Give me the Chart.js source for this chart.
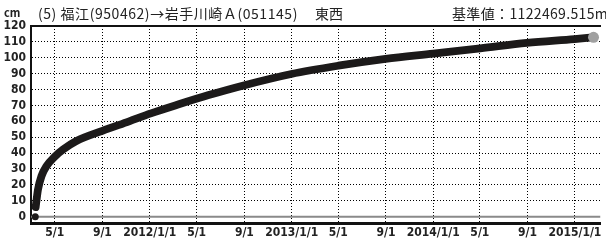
<!DOCTYPE html>
<html>
<head>
<meta charset="utf-8">
<script src="https://cdn.jsdelivr.net/npm/chart.js@4"></script>
<style>
  body { margin: 0; background: #fff; }
  #wrap { position: relative; width: 606px; height: 248px; }
  .t { position: absolute; white-space: nowrap; color: #222; font-family: 'Liberation Sans Narrow', 'Noto Sans CJK JP', sans-serif; }
</style>
</head>
<body>
<div id="wrap">
  <canvas id="chart" width="606" height="248"></canvas>
  <div class="t" style="left:4px;top:4px;font-size:11px;font-weight:bold;">cm</div>
  <div class="t" style="left:38px;top:3px;font-size:14px;letter-spacing:0.55px;">(5) 福江(950462)→岩手川崎Ａ(051145)</div>
  <div class="t" style="left:315px;top:3px;font-size:14px;">東西</div>
  <div class="t" style="left:452px;top:3px;font-size:14px;letter-spacing:0.35px;">基準値：1122469.515m</div>
</div>
<script>
//Data
const dates = ['2011-03-13', '2011-03-19', '2011-03-28', '2011-04-10', '2011-05-01', '2011-05-23',
    '2011-06-26', '2011-09-01', '2011-11-09', '2012-01-04', '2012-03-16', '2012-06-01',
    '2012-08-30', '2012-12-31', '2013-05-01', '2013-08-31', '2014-01-01', '2014-05-02',
    '2014-08-30', '2014-12-31', '2015-02-18'];
const values = [6, 17, 25.5, 31.8, 37.7, 42.3, 47.6, 54, 60, 65, 70.7, 76.5,
    82.6, 89.8, 95, 99.3, 102.6, 105.9, 109.4, 111.8, 112.9];
const startDate = '2011-03-12';
const startValue = 0;

const xTickDates = ['2011-05-01', '2011-09-01', '2012-01-01', '2012-05-01', '2012-09-01', '2013-01-01',
    '2013-05-01', '2013-09-01', '2014-01-01', '2014-05-01', '2014-09-01', '2015-01-01'];
const xTickLabels = ['5/1', '9/1', '2012/1/1', '5/1', '9/1', '2013/1/1',
    '5/1', '9/1', '2014/1/1', '5/1', '9/1', '2015/1/1'];
const yTicks = [0, 10, 20, 30, 40, 50, 60, 70, 80, 90, 100, 110, 120];
const xRange = ['2011-03-01', '2015-03-08'];

// day number from date string
const day = (s) => {
    const [y, m, d] = s.split('-').map(Number);
    return (Date.UTC(y, m - 1, d) - Date.UTC(2011, 0, 1)) / 864e5;
};

const labelFont = { family: "'Liberation Sans Narrow', 'DejaVu Sans Condensed', sans-serif", size: 12, weight: 'bold' };

const lineData = dates.map((d, i) => ({ x: day(d), y: values[i] }));
const last = lineData[lineData.length - 1];

new Chart(document.getElementById('chart'), {
    type: 'line',
    data: {
        datasets: [
            {   // zero line
                data: [{ x: day(xRange[0]), y: 0 }, { x: day(xRange[1]), y: 0 }],
                borderColor: '#8a8a8a',
                borderWidth: 2,
                pointRadius: 0,
                order: 3
            },
            {
                data: lineData,
                borderColor: '#1c1a1a',
                borderWidth: 7.8,
                cubicInterpolationMode: 'monotone',
                pointRadius: 0,
                borderCapStyle: 'round',
                order: 2
            },
            {   // start marker
                data: [{ x: day(startDate), y: startValue }],
                pointRadius: 3.5,
                pointBackgroundColor: '#1c1a1a',
                pointBorderWidth: 0,
                showLine: false,
                order: 1
            },
            {   // end marker
                data: [last],
                pointRadius: 5.5,
                pointBackgroundColor: '#a0a0a0',
                pointBorderWidth: 0,
                showLine: false,
                order: 0
            }
        ]
    },
    options: {
        responsive: false,
        animation: false,
        layout: { padding: { top: 26, right: 0, left: 0, bottom: 0 } },
        plugins: { legend: { display: false }, tooltip: { enabled: false } },
        scales: {
            x: {
                type: 'linear',
                min: day(xRange[0]),
                max: day(xRange[1]),
                afterBuildTicks: (axis) => {
                    axis.ticks = xTickDates.map(d => ({ value: day(d) }));
                },
                afterFit: (axis) => { axis.height = 25; },
                ticks: {
                    autoSkip: false,
                    maxRotation: 0,
                    padding: 3,
                    color: '#222',
                    font: labelFont,
                    callback: (v, i) => xTickLabels[i]
                },
                grid: { color: '#000', lineWidth: 1, drawTicks: false },
                border: { color: '#111', width: 3, dash: [1, 2] }
            },
            xTop: {
                type: 'linear',
                position: 'top',
                min: day(xRange[0]),
                max: day(xRange[1]),
                ticks: { display: false },
                grid: { display: false, drawTicks: false },
                border: { color: '#111', width: 2 }
            },
            y: {
                min: -4,
                max: 120,
                afterBuildTicks: (axis) => {
                    axis.ticks = yTicks.map(v => ({ value: v }));
                },
                afterFit: (axis) => { axis.width = 31; },
                ticks: {
                    autoSkip: false,
                    padding: 5,
                    color: '#222',
                    font: labelFont
                },
                grid: {
                    color: (ctx) => (ctx.tick && (ctx.tick.value === 0 || ctx.tick.value === 120)) ? 'rgba(0,0,0,0)' : '#000',
                    lineWidth: 1,
                    drawTicks: false
                },
                border: { color: '#111', width: 2, dash: [1, 2] }
            }
        }
    }
});
</script>
</body>
</html>
